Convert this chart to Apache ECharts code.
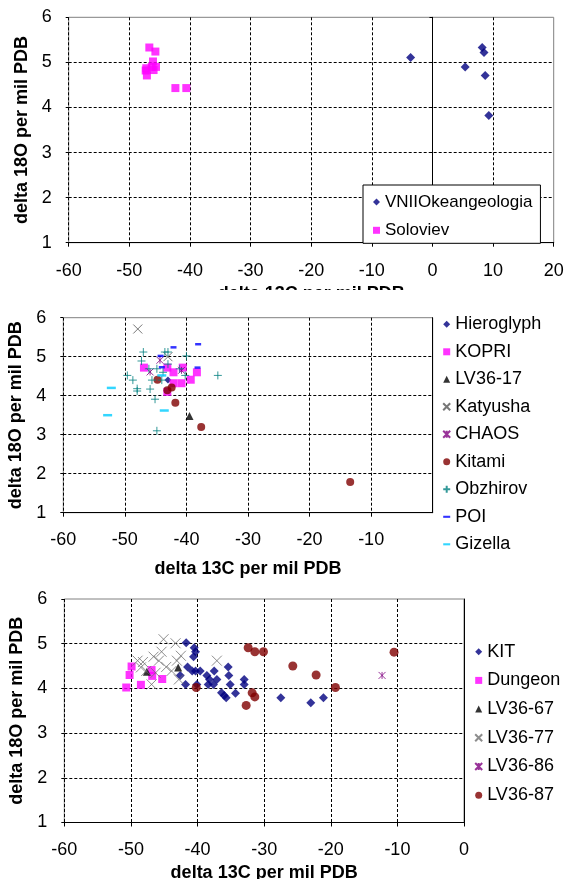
<!DOCTYPE html>
<html>
<head>
<meta charset="utf-8">
<script src="https://cdn.jsdelivr.net/npm/echarts@6/dist/echarts.min.js"></script>
<style>
html, body { margin: 0; padding: 0; background: #fff; }
.panel { position: absolute; left: 0; width: 567px; }
#c1 { top: 0; height: 290px; }
#c2 { top: 290px; height: 290px; }
#c3 { top: 580px; height: 299px; }
</style>
</head>
<body>
<div id="c1" class="panel"></div>
<div id="c2" class="panel"></div>
<div id="c3" class="panel"></div>
<script>
// ---- panel 1 ----
var vnii = [[-3.6, 5.11], [5.4, 4.90], [8.2, 5.33], [8.5, 5.22], [8.7, 4.71], [9.3, 3.82]];
var soloviev = [[-46.7, 5.33], [-45.7, 5.24], [-46.1, 5.02], [-47.2, 4.87], [-47.3, 4.82],
	[-47.1, 4.71], [-46.3, 4.90], [-45.6, 4.90], [-46.0, 4.83], [-42.4, 4.43], [-40.6, 4.43]];

// ---- panel 2 ----
var hieroglyph = [[-43.0, 4.40]];
var kopri = [[-46.9, 4.72], [-43.1, 4.72], [-42.1, 4.60], [-40.6, 4.72], [-38.3, 4.60],
	[-39.3, 4.41], [-42.1, 4.32], [-40.8, 4.32], [-43.1, 4.10]];
var lv3617 = [[-39.5, 3.48]];
var katyusha = [[-47.9, 5.71], [-43.0, 5.00]];
var chaos = [[-44.3, 4.91], [-45.9, 4.61], [-40.8, 4.65]];
var kitami = [[-44.7, 4.41], [-43.1, 4.14], [-42.4, 4.21], [-41.8, 3.82], [-37.6, 3.20], [-13.4, 1.79]];
var obzhirov = [[-47.0, 5.12], [-47.3, 4.89], [-49.6, 4.52], [-48.7, 4.40], [-48.0, 4.18],
	[-48.0, 4.12], [-45.9, 4.17], [-45.1, 3.91], [-44.8, 3.10], [-43.5, 5.12], [-43.0, 5.12],
	[-40.0, 5.02], [-46.1, 4.69], [-44.8, 4.69], [-43.8, 4.60], [-45.6, 4.40], [-43.0, 4.81],
	[-41.1, 4.69], [-40.2, 4.52], [-34.9, 4.52], [-44.0, 4.40]];
var poi = [[-42.1, 5.24], [-38.1, 5.32], [-44.2, 5.02], [-44.0, 4.73], [-38.2, 4.72]];
var gizella = [[-52.2, 4.20], [-52.8, 3.50], [-43.6, 3.62], [-44.0, 4.52]];

// ---- panel 3 ----
var kit = [[-41.7, 5.02], [-40.5, 4.91], [-40.3, 4.82], [-40.6, 4.71], [-41.5, 4.48],
	[-40.3, 4.39], [-39.6, 4.39], [-40.8, 4.39], [-42.6, 4.29], [-41.8, 4.09], [-40.1, 4.09],
	[-38.6, 4.29], [-38.2, 4.20], [-38.4, 4.09], [-37.6, 4.09], [-37.5, 4.39], [-37.1, 4.20],
	[-35.4, 4.48], [-35.3, 4.29], [-35.1, 4.09], [-36.4, 3.90], [-35.7, 3.79], [-34.3, 3.89],
	[-33.0, 4.20], [-33.0, 4.09], [-27.5, 3.79], [-23.0, 3.68], [-21.1, 3.79], [-36.0, 3.84]];
var dungeon = [[-50.7, 4.02], [-50.2, 4.30], [-49.9, 4.49], [-48.5, 4.08], [-46.9, 4.41],
	[-46.8, 4.28], [-45.3, 4.21]];
var lv3667 = [[-42.9, 4.47], [-47.6, 4.37]];
var lv3677 = [[-49.0, 4.62], [-48.2, 4.59], [-47.7, 4.39], [-46.9, 4.09], [-46.6, 4.71],
	[-45.4, 4.82], [-45.1, 5.10], [-43.3, 5.01], [-45.8, 4.62], [-44.7, 4.48], [-43.9, 4.39],
	[-43.1, 4.62], [-42.5, 4.73], [-42.8, 4.20], [-37.1, 4.62], [-48.5, 4.47], [-46.3, 4.35]];
var lv3686 = [[-12.3, 4.29]];
var lv3687 = [[-32.4, 4.91], [-31.4, 4.82], [-30.1, 4.82], [-40.2, 4.02], [-31.8, 3.90],
	[-31.4, 3.81], [-32.7, 3.62], [-25.7, 4.50], [-22.2, 4.30], [-19.3, 4.02], [-10.5, 4.81]];

var FONT = 'Liberation Sans, Arial, sans-serif';
var CROSS = 'path://M0,0L10,10M10,0L0,10';
var PLUS = 'path://M5,0L5,10M0,5L10,5';
var STAR = 'path://M0,0L10,10M10,0L0,10M5,0L5,10';
var DASH = 'path://M0,0L10,0L10,3L0,3Z';

function sc(name, data, sym, size, color, stroke) {
	return {
		name : name,
		type : 'scatter',
		data : data,
		symbol : sym,
		symbolSize : size,
		itemStyle : stroke ? {
			color : 'rgba(0,0,0,0)',
			borderColor : color,
			borderWidth : 1
		} : {
			color : color
		},
		emphasis : { disabled : true }
	};
}

function xAxisCfg(min, max, nameGap, labelMargin, showMax) {
	return {
		type : 'value',
		min : min,
		max : max,
		interval : 10,
		name : 'delta 13C per mil PDB',
		nameLocation : 'middle',
		nameGap : nameGap,
		nameTextStyle : { fontSize : 18, fontWeight : 'bold', color : '#000', fontFamily : FONT },
		axisLine : { onZero : false, lineStyle : { color : '#000', width : 1 } },
		axisTick : { show : true, length : 4, lineStyle : { color : '#000' } },
		axisLabel : { fontSize : 18, color : '#000', fontFamily : FONT, margin : labelMargin, showMaxLabel : showMax },
		splitLine : {
			show : true, showMinLine : true, showMaxLine : false,
			lineStyle : { color : '#000', type : [3, 2], width : 1 }
		}
	};
}

function yAxesCfg(nameGap, zeroInside) {
	return [ {
		type : 'value',
		min : 1,
		max : 6,
		interval : 1,
		position : 'left',
		name : 'delta 18O per mil PDB',
		nameLocation : 'middle',
		nameGap : nameGap,
		nameTextStyle : { fontSize : 18, fontWeight : 'bold', color : '#000', fontFamily : FONT },
		axisLine : { show : false, onZero : false },
		axisTick : { show : true, length : 3, lineStyle : { color : '#000' } },
		axisLabel : { fontSize : 18, color : '#000', fontFamily : FONT, margin : 17 },
		splitLine : {
			show : true, showMinLine : false, showMaxLine : false,
			lineStyle : { color : '#000', type : [3, 2], width : 1 }
		}
	}, {
		type : 'value',
		min : 1,
		max : 6,
		interval : 1,
		position : zeroInside ? 'left' : 'right',
		axisLine : { show : true, onZero : zeroInside, lineStyle : { color : '#000', width : 1 } },
		axisTick : { show : zeroInside, length : 3, lineStyle : { color : '#000' } },
		axisLabel : { show : false },
		splitLine : { show : false }
	} ];
}

function legendCfg(left, top, gap, fontSize, names, icons) {
	return {
		orient : 'vertical',
		left : left,
		top : top,
		padding : 0,
		itemGap : gap,
		itemWidth : 7,
		itemHeight : 7,
		textStyle : { fontSize : fontSize, lineHeight : 18, color : '#000', fontFamily : FONT },
		data : names.map(function(n, i) {
			return icons && icons[i] ? { name : n, icon : icons[i] } : { name : n };
		})
	};
}

// panel 1
var chart1 = echarts.init(document.getElementById('c1'));
var leg1 = legendCfg(363, 185, 10.3, 17, [ 'VNIIOkeangeologia', 'Soloviev' ]);
leg1.padding = [ 8, 8, 4, 10 ];
leg1.borderColor = '#000';
leg1.borderWidth = 1;
leg1.backgroundColor = '#fff';
chart1.setOption({
	animation : false,
	grid : { left : 68.7, top : 17.3, width : 485, height : 225.4, show : true,
		borderColor : '#808080', borderWidth : 1, outerBoundsMode : 'none' },
	xAxis : xAxisCfg(-60, 20, 35, 19, true),
	yAxis : yAxesCfg(37, true),
	legend : leg1,
	series : [
		sc('VNIIOkeangeologia', vnii, 'diamond', 9, '#000080'),
		sc('Soloviev', soloviev, 'rect', 8, '#ff00ff')
	]
});

// panel 2
var chart2 = echarts.init(document.getElementById('c2'));
chart2.setOption({
	animation : false,
	grid : { left : 63.3, top : 27.7, width : 369.4, height : 195, show : true,
		borderColor : '#808080', borderWidth : 1, outerBoundsMode : 'none' },
	xAxis : xAxisCfg(-60, 0, 47, 18, false),
	yAxis : yAxesCfg(34, false),
	legend : legendCfg(442.2, 25.3, 9.5, 18,
		[ 'Hieroglyph', 'KOPRI', 'LV36-17', 'Katyusha', 'CHAOS', 'Kitami', 'Obzhirov', 'POI', 'Gizella' ],
		[ null, null, null, null, null, null, null, DASH, DASH ]),
	series : [
		sc('Hieroglyph', hieroglyph, 'diamond', 7, '#000080'),
		sc('KOPRI', kopri, 'rect', 8, '#ff00ff'),
		sc('LV36-17', lv3617, 'triangle', 8, '#000000'),
		sc('Katyusha', katyusha, CROSS, 9, '#555555', true),
		sc('CHAOS', chaos, STAR, 7, '#800080', true),
		sc('Kitami', kitami, 'circle', 8, '#800000'),
		sc('Obzhirov', obzhirov, PLUS, 8, '#008080', true),
		sc('POI', poi, 'rect', [ 6, 2.5 ], '#0000ff'),
		sc('Gizella', gizella, 'rect', [ 9, 2.5 ], '#00ccff')
	]
});

// panel 3
var chart3 = echarts.init(document.getElementById('c3'));
chart3.setOption({
	animation : false,
	grid : { left : 64.3, top : 19, width : 399.7, height : 223.5, show : true,
		borderColor : '#808080', borderWidth : 1, outerBoundsMode : 'none' },
	xAxis : xAxisCfg(-60, 0, 39, 19, true),
	yAxis : yAxesCfg(36, false),
	legend : legendCfg(474.2, 62.7, 10.7, 18,
		[ 'KIT', 'Dungeon', 'LV36-67', 'LV36-77', 'LV36-86', 'LV36-87' ]),
	series : [
		sc('KIT', kit, 'diamond', 9, '#000080'),
		sc('Dungeon', dungeon, 'rect', 8, '#ff00ff'),
		sc('LV36-67', lv3667, 'triangle', 8, '#000000'),
		sc('LV36-77', lv3677, CROSS, 10, '#707070', true),
		sc('LV36-86', lv3686, STAR, 7, '#800080', true),
		sc('LV36-87', lv3687, 'circle', 9, '#800000')
	]
});
</script>
</body>
</html>
